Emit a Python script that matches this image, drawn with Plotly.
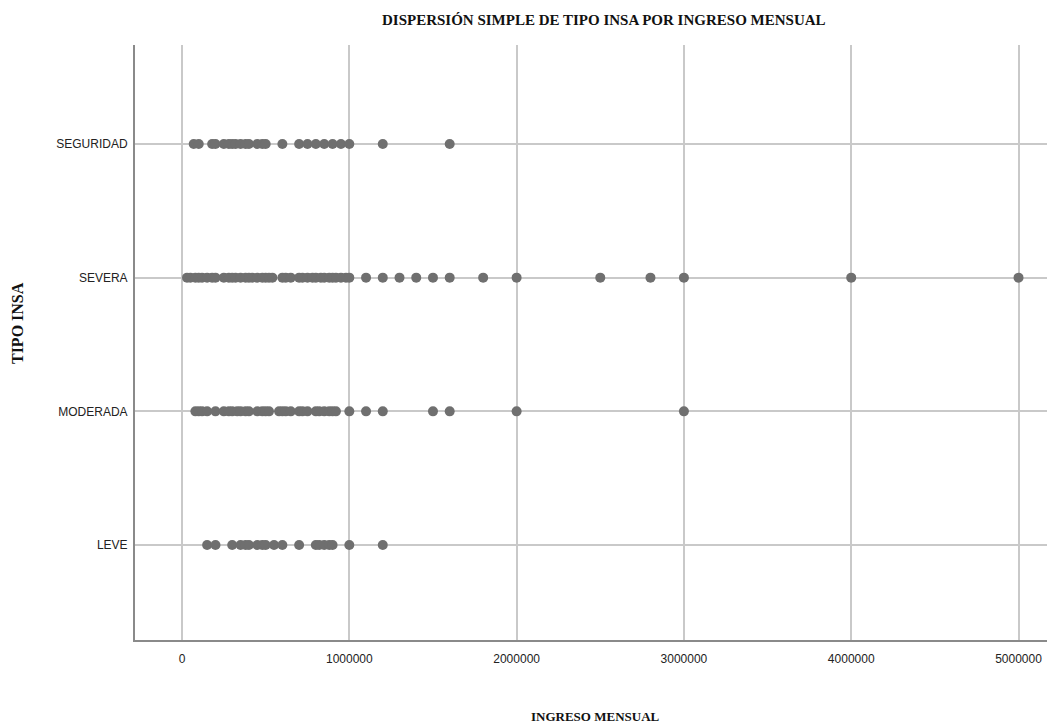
import plotly.graph_objects as go

categories = ["LEVE", "MODERADA", "SEVERA", "SEGURIDAD"]

leve = [150000, 200000, 300000, 350000, 380000, 400000, 450000, 480000, 500000,
        550000, 600000, 700000, 800000, 820000, 850000, 880000, 900000, 1000000, 1200000]

moderada = [80000, 100000, 120000, 150000, 200000, 250000, 280000, 300000, 330000,
            350000, 380000, 400000, 450000, 480000, 500000, 520000, 580000, 600000,
            620000, 650000, 700000, 720000, 750000, 800000, 820000, 850000, 880000,
            900000, 920000, 1000000, 1100000, 1200000, 1500000, 1600000, 2000000, 3000000]

severa = [30000, 50000, 80000, 100000, 120000, 150000, 180000, 200000, 250000, 280000,
          300000, 320000, 350000, 380000, 400000, 420000, 450000, 480000, 500000, 520000,
          540000, 600000, 620000, 650000, 700000, 720000, 750000, 780000, 800000, 830000,
          850000, 880000, 900000, 920000, 950000, 980000, 1000000, 1100000, 1200000,
          1300000, 1400000, 1500000, 1600000, 1800000, 2000000, 2500000, 2800000,
          3000000, 4000000, 5000000]

seguridad = [70000, 100000, 180000, 200000, 250000, 280000, 300000, 320000, 350000,
             380000, 400000, 450000, 480000, 500000, 600000, 700000, 750000, 800000,
             850000, 900000, 950000, 1000000, 1200000, 1600000]

x_ticks = [0, 1000000, 2000000, 3000000, 4000000, 5000000]

series = [leve, moderada, severa, seguridad]

xs, ys = [], []
for i, vals in enumerate(series):
    xs.extend(vals)
    ys.extend([i] * len(vals))

fig = go.Figure()
fig.add_trace(go.Scatter(
    x=xs, y=ys, mode="markers",
    marker=dict(size=10, color="#6f6f6f", line=dict(width=0)),
    showlegend=False, cliponaxis=False,
))

serif = "Liberation Serif, Times New Roman"

fig.update_layout(
    width=1055, height=728,
    margin=dict(l=127, r=8, t=37, b=96),
    paper_bgcolor="white", plot_bgcolor="white",
    font=dict(family="Liberation Sans, Arial", size=12, color="#222"),
    xaxis=dict(
        range=[-281000, 5218000],
        tickvals=x_ticks, ticktext=[str(v) for v in x_ticks],
        showgrid=True, gridcolor="#c9c9c9", gridwidth=1.5,
        zeroline=False, showline=True, linecolor="#8a8a8a", linewidth=2,
        ticks="", ticklen=0, ticklabelstandoff=7,
        tickfont=dict(size=12, color="#222"),
    ),
    yaxis=dict(
        range=[-0.71, 3.74],
        tickvals=[0, 1, 2, 3], ticktext=categories,
        showgrid=True, gridcolor="#c9c9c9", gridwidth=1.5,
        zeroline=False, showline=True, linecolor="#8a8a8a", linewidth=2,
        ticks="", ticklen=0, ticklabelstandoff=3,
        tickfont=dict(size=12, color="#222"),
    ),
    annotations=[
        dict(text="<b>DISPERSIÓN SIMPLE DE TIPO INSA POR INGRESO MENSUAL</b>",
             x=0.5 + 8.5 / 920, y=1.042, xref="paper", yref="paper", showarrow=False,
             xanchor="center", yanchor="middle",
             font=dict(family=serif, size=15, color="#111")),
        dict(text="<b>INGRESO MENSUAL</b>",
             x=0.5, y=-0.129, xref="paper", yref="paper", showarrow=False,
             xanchor="center", yanchor="middle",
             font=dict(family=serif, size=13, color="#111")),
        dict(text="<b>TIPO INSA</b>", textangle=-90,
             x=-0.127, y=0.533, xref="paper", yref="paper", showarrow=False,
             xanchor="center", yanchor="middle",
             font=dict(family=serif, size=16, color="#111")),
    ],
)

fig.write_html("out.html")
